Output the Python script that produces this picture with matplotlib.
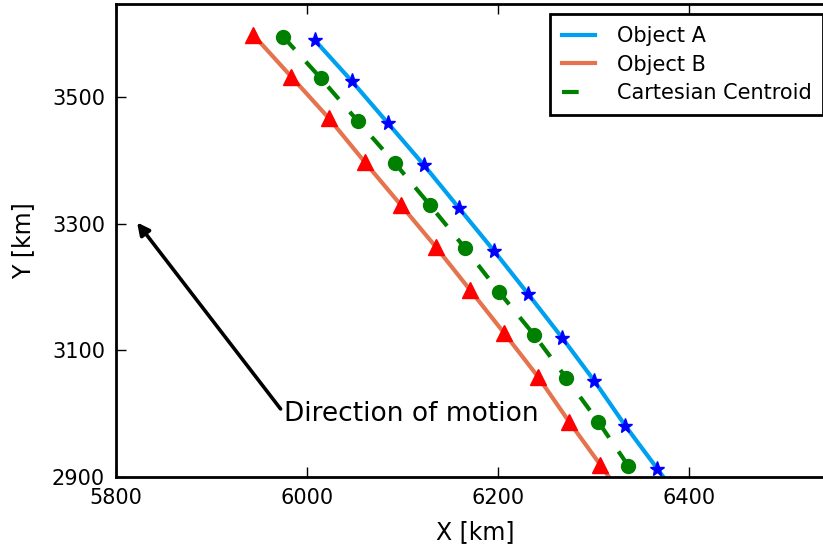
import matplotlib.pyplot as plt
import matplotlib as mpl

mpl.rcParams['lines.scale_dashes'] = False

# Track positions (km); the last point of each track lies below the plotted range
obj_a_x = [6007.7, 6046.5, 6084.3, 6122.0, 6158.7, 6195.5, 6231.1, 6266.8, 6300.4, 6332.9, 6366.4, 6399.0]
obj_a_y = [3590.3, 3525.6, 3459.3, 3393.0, 3325.1, 3257.2, 3189.3, 3119.9, 3052.0, 2981.0, 2913.1, 2845.0]

obj_b_x = [5943.7, 5983.6, 6022.4, 6060.1, 6097.9, 6134.6, 6170.3, 6205.9, 6241.6, 6274.1, 6306.7, 6339.0]
obj_b_y = [3598.2, 3531.9, 3467.2, 3397.7, 3329.8, 3263.5, 3195.7, 3127.8, 3058.3, 2987.3, 2919.4, 2851.0]

cent_x = [5975.2, 6014.0, 6052.8, 6091.6, 6128.3, 6165.0, 6200.7, 6237.4, 6271.0, 6304.6, 6336.0, 6369.0]
cent_y = [3595.0, 3530.3, 3462.4, 3396.1, 3329.8, 3261.9, 3192.5, 3124.6, 3056.7, 2987.3, 2917.8, 2848.0]

fig = plt.figure(figsize=(8.23, 5.48), dpi=100)
ax = fig.add_axes([0.141, 0.1296, 0.872, 0.863])

ax.plot(obj_a_x, obj_a_y, color='#00a0f0', lw=3, label='Object A')
ax.plot(obj_b_x, obj_b_y, color='#e4734e', lw=3, label='Object B')
ax.plot(cent_x, cent_y, color='green', lw=3, dashes=(12, 12), label='Cartesian Centroid')

ax.plot(obj_a_x, obj_a_y, 'b*', ms=11, mec='b', ls='none')
ax.plot(obj_b_x, obj_b_y, 'r^', ms=11.5, mec='r', ls='none')
ax.plot(cent_x, cent_y, 'o', color='green', ms=10, mec='green', ls='none')

ax.annotate('Direction of motion', xy=(5822, 3302), xytext=(5976, 3000),
            fontsize=19, ha='left', va='center',
            arrowprops=dict(arrowstyle='-|>', color='k', lw=2.6,
                            mutation_scale=18, relpos=(0, 0.5),
                            shrinkA=1, shrinkB=0))

ax.set_xlim(5800, 6551)
ax.set_ylim(2900, 3647)
ax.set_xticks([5800, 6000, 6200, 6400])
ax.set_yticks([2900, 3100, 3300, 3500])
ax.set_xlabel('X [km]', fontsize=17, labelpad=9)
ax.set_ylabel('Y [km]', fontsize=17, labelpad=12)

ax.tick_params(direction='in', length=7, width=1, labelsize=15, pad=8,
               top=True, right=True)
for s in ax.spines.values():
    s.set_linewidth(2)

leg = ax.legend(loc='upper right', fontsize=15, handlelength=1.6,
                handletextpad=1.05, borderpad=0.55, labelspacing=0.42,
                fancybox=False, framealpha=1, borderaxespad=0.5)
leg.get_frame().set_edgecolor('black')
leg.get_frame().set_linewidth(2)

fig.savefig('out.png', dpi=100)
